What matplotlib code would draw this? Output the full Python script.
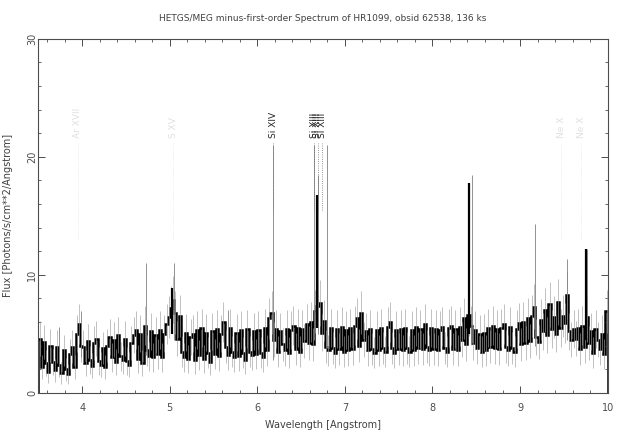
import numpy as np
import matplotlib
matplotlib.use("Agg")
import matplotlib.pyplot as plt

# binned flux, 0.025 A bins from 3.5 to 10.0 A
wave_start = 3.5
bin_width = 0.025
flux = [
    4.6, 2.2, 4.3, 2.5, 1.8, 4.0, 2.6, 1.9, 3.9, 2.4,
    1.7, 3.6, 2.0, 1.6, 3.3, 3.9, 2.2, 5.0, 5.8, 4.0,
    3.9, 2.5, 4.4, 2.8, 2.3, 4.2, 4.6, 2.7, 2.4, 3.8,
    2.2, 4.0, 4.7, 3.0, 4.5, 2.6, 4.9, 3.1, 2.8, 4.6,
    2.7, 2.4, 4.2, 4.9, 5.3, 2.9, 5.0, 2.5, 5.7, 3.6,
    3.1, 5.2, 3.0, 4.9, 3.3, 5.3, 3.0, 5.0, 5.8, 6.4,
    7.2, 7.9, 6.8, 4.6, 6.5, 3.5, 3.0, 5.1, 2.9, 4.7,
    5.0, 2.8, 5.3, 3.2, 5.5, 2.9, 5.1, 3.4, 2.6, 5.2,
    3.3, 5.4, 3.1, 5.0, 6.0, 3.9, 3.2, 5.5, 3.5, 3.0,
    5.1, 3.1, 5.3, 3.4, 2.8, 5.4, 3.5, 3.2, 5.2, 3.3,
    5.3, 3.4, 3.0, 5.5, 3.6, 6.3, 6.8, 4.5, 5.4, 3.5,
    5.2, 4.1, 3.6, 5.4, 3.4, 5.3, 5.7, 3.7, 5.5, 3.5,
    5.4, 4.4, 5.8, 4.2, 6.0, 4.1, 6.9, 7.4, 7.6, 5.1,
    6.1, 3.9, 3.6, 5.5, 3.8, 3.4, 5.4, 3.7, 5.6, 3.5,
    5.3, 3.6, 5.5, 3.7, 5.7, 6.3, 4.0, 6.8, 4.5, 5.2,
    3.6, 5.4, 3.7, 3.4, 5.3, 3.6, 5.5, 3.8, 3.5, 5.6,
    6.0, 3.8, 3.4, 5.3, 3.7, 5.4, 3.6, 5.5, 3.8, 3.5,
    5.3, 3.6, 5.6, 3.8, 5.4, 3.7, 5.8, 3.9, 3.6, 5.5,
    3.7, 5.4, 3.6, 5.3, 5.6, 3.8, 3.5, 5.5, 5.7, 3.7,
    5.4, 3.6, 5.6, 4.5, 6.3, 4.1, 6.6, 5.7, 4.2, 5.3,
    3.8, 5.0, 3.5, 5.1, 3.6, 5.5, 3.9, 5.7, 3.8, 5.4,
    3.7, 5.5, 5.8, 3.9, 3.6, 5.6, 3.8, 3.5, 5.4, 5.9,
    4.1, 6.0, 4.2, 6.3, 4.4, 6.5, 7.3, 4.7, 4.3, 6.2,
    5.2, 7.0, 4.9, 7.5, 5.4, 6.4, 5.0, 7.7, 5.5, 6.5,
    5.9, 8.3, 5.2, 4.5, 5.4, 4.6, 5.5, 3.7, 5.7, 3.9,
    6.4, 4.2, 5.2, 3.4, 5.4, 4.5, 3.7, 5.0, 3.3, 6.9,
]

# narrow line spikes (thin grey)
spike_wave = [3.74, 3.99, 4.73, 5.05, 5.66, 6.18, 6.65, 6.69, 6.79, 8.45, 9.17, 9.54, 9.76]
spike_lo = [2.6, 3.0, 3.2, 4.5, 3.5, 2.8, 4.5, 5.0, 3.8, 4.2, 4.0, 4.5, 4.3]
spike_hi = [5.6, 6.9, 11.0, 11.0, 7.0, 21.0, 21.0, 18.5, 21.0, 18.5, 14.3, 11.3, 12.2]

# brightest line cores (thin black)
core_wave = [5.03, 6.685, 8.415, 9.755]
core_lo = [5.0, 5.5, 5.0, 4.5]
core_hi = [8.9, 16.8, 17.8, 12.2]

# line identifications
label_wave = [6.18, 6.648, 6.688, 6.740]
label_text = ["Si XIV", "Si XIII", "Si XIII", "Si XIII"]
faint_wave = [3.95, 5.04, 9.47, 9.70]
faint_text = ["Ar XVII", "S XV", "Ne X", "Ne X"]

edges = wave_start + bin_width * np.arange(len(flux) + 1)
centers = edges[:-1] + bin_width / 2
flux = np.array(flux)
err = 0.7 * np.sqrt(flux)

fig = plt.figure(figsize=(6.2, 4.36), dpi=100)
ax = fig.add_axes([0.062, 0.099, 0.918, 0.812])

ax.vlines(centers, flux - err, flux + err, color="0.62", lw=0.45)
ax.vlines(spike_wave, spike_lo, spike_hi, color="0.5", lw=0.6)
ax.stairs(flux, edges, color="k", lw=1.8)
ax.vlines(core_wave, core_lo, core_hi, color="k", lw=1.6)

# dotted line markers below the labels
ax.vlines(label_wave, 15.5, 21.2, color="0.45", lw=0.6, linestyles=":")
ax.vlines(faint_wave, 13.0, 21.2, color="0.9", lw=0.6, linestyles=":")

for w, t in zip(label_wave, label_text):
    ax.text(w, 21.6, t, rotation=90, ha="center", va="bottom",
            fontsize=6.5, color="0.15")
for w, t in zip(faint_wave, faint_text):
    ax.text(w, 21.6, t, rotation=90, ha="center", va="bottom",
            fontsize=6.5, color="0.88")

ax.set_xlim(3.5, 10)
ax.set_ylim(0, 30)
ax.set_xticks([4, 5, 6, 7, 8, 9, 10])
ax.set_yticks([0, 10, 20, 30])
ax.set_xticks(np.arange(3.6, 10.0, 0.2), minor=True)
ax.set_yticks(np.arange(0, 30, 2), minor=True)
ax.tick_params(which="both", direction="in", top=True, right=True,
               color="0.3", labelsize=7, labelcolor="0.3")
ax.tick_params(which="major", length=5, width=0.7)
ax.tick_params(which="minor", length=2.5, width=0.6)
ax.tick_params(axis="x", pad=7)
ax.tick_params(axis="y", pad=1)
plt.setp(ax.get_yticklabels(), rotation=90, va="center")
for s in ax.spines.values():
    s.set_color("0.3")
    s.set_linewidth(0.8)

ax.set_xlabel("Wavelength [Angstrom]", fontsize=7, color="0.25", labelpad=5)
ax.set_ylabel("Flux [Photons/s/cm**2/Angstrom]", fontsize=7, color="0.25", labelpad=10)
ax.set_title("HETGS/MEG minus-first-order Spectrum of HR1099, obsid 62538, 136 ks",
             fontsize=6.5, color="0.25", pad=12.5)

fig.savefig("out.png", dpi=100)
